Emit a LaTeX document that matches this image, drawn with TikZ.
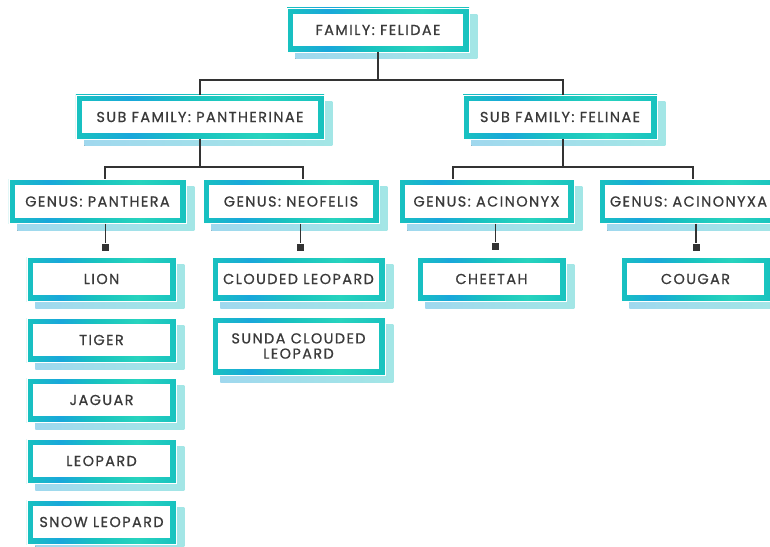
\documentclass[tikz,border=0pt]{standalone}
\usepackage{fontspec}
\setmainfont[LetterSpace=10,FakeBold=0.8]{Poppins}
\usepackage{xcolor}
\usepackage{tikz}
\usetikzlibrary{shadows}
\definecolor{FelTeal}{HTML}{18C2BF}
\definecolor{FelBlue}{HTML}{19A7DB}
\definecolor{FelMint}{HTML}{27D3BE}
\definecolor{FelShade}{HTML}{A3E6E6}
\definecolor{FelShadeBlue}{HTML}{A0D8EE}
\definecolor{FelInk}{HTML}{3A3A3A}
\definecolor{FelLine}{HTML}{333333}
\pgfdeclarehorizontalshading{felrim}{100bp}{color(0bp)=(FelTeal); color(25bp)=(FelTeal); color(36bp)=(FelBlue); color(48bp)=(FelTeal); color(62bp)=(FelMint); color(75bp)=(FelTeal); color(100bp)=(FelTeal)}

\begin{document}
\begin{tikzpicture}[
  x=0.3mm,y=-0.3mm,
  felbox/.style={rectangle,inner sep=0pt,outer sep=0pt,minimum height=13.2mm,align=center,
    draw=white,line width=0.8pt,fill=white,text=FelInk,font=\fontsize{12.3}{13}\selectfont,
    drop shadow={shadow xshift=2.5mm,shadow yshift=-2.1mm,opacity=1,left color=FelShadeBlue,right color=FelShade},
    path picture={
      \shade[shading=felrim,shading angle=0] (path picture bounding box.south west) rectangle (path picture bounding box.north east);
      \fill[white] ([shift={(1.8mm,1.8mm)}]path picture bounding box.south west) rectangle ([shift={(-1.8mm,-1.8mm)}]path picture bounding box.north east);
    }},
  species/.style={felbox,minimum width=44.7mm},
  knob/.style={rectangle,fill=FelLine,inner sep=0pt,minimum size=2.1mm},
  link/.style={draw=FelLine,line width=1.1pt}
]
  \useasboundingbox (0,0) rectangle (770,547);
  \node[felbox,minimum width=54.6mm] (fam) at (378,30) {FAMILY: FELIDAE};
  \node[felbox,minimum width=74.4mm] (subp) at (200,117) {SUB FAMILY: PANTHERINAE};
  \node[felbox,minimum width=58.2mm] (subf) at (560,117) {SUB FAMILY: FELINAE};
  \node[felbox,minimum width=53.1mm] (gp) at (97.5,201.5) {GENUS: PANTHERA};
  \node[felbox,minimum width=52.8mm] (gn) at (291,201.5) {GENUS: NEOFELIS};
  \node[felbox,minimum width=52.5mm] (ga) at (486.5,201.5) {GENUS: ACINONYX};
  \node[felbox,minimum width=53.7mm] (gx) at (688.5,201.5) {GENUS: ACINONYXA};
  \node[species] (lion) at (101.5,279) {LION};
  \node[species] (tiger) at (101.5,340) {TIGER};
  \node[species] (jaguar) at (101.5,400) {JAGUAR};
  \node[species] (leopard) at (101.5,461) {LEOPARD};
  \node[species] (snow) at (101.5,522) {SNOW LEOPARD};
  \node[species,minimum width=51.9mm] (clouded) at (298.5,279) {CLOUDED LEOPARD};
  \node[species,minimum width=51.9mm,minimum height=17.4mm] (sunda) at (298.5,346) {SUNDA CLOUDED\\LEOPARD};
  \node[species] (cheetah) at (491.5,279) {CHEETAH};
  \node[species] (cougar) at (695.5,279) {COUGAR};
  \node[knob] (pknob) at (105.5,247) {};
  \node[knob] (nknob) at (300.5,247) {};
  \node[knob] (aknob) at (495.5,246) {};
  \node[knob] (xknob) at (696,247) {};
  \draw[link] (fam.south) -- ++(0,28) -| (subp.north);
  \draw[link] (fam.south) -- ++(0,28) -| ([shift={(3,0)}]subf.north);
  \draw[link] (subp.south) -- ++(0,28) -| ([shift={(7.5,0)}]gp.north);
  \draw[link] (subp.south) -- ++(0,28) -| ([shift={(12,0)}]gn.north);
  \draw[link] ([shift={(3,0)}]subf.south) -- ++(0,28) -| ([shift={(-33.5,0)}]ga.north);
  \draw[link] ([shift={(3,0)}]subf.south) -- ++(0,28) -| ([shift={(4.5,0)}]gx.north);
  \draw[link] (gp.south -| pknob) -- (pknob);
  \draw[link] (gn.south -| nknob) -- (nknob);
  \draw[link] (ga.south -| aknob) -- (aknob);
  \draw[link] (gx.south -| xknob) -- (xknob);
\end{tikzpicture}
\end{document}
